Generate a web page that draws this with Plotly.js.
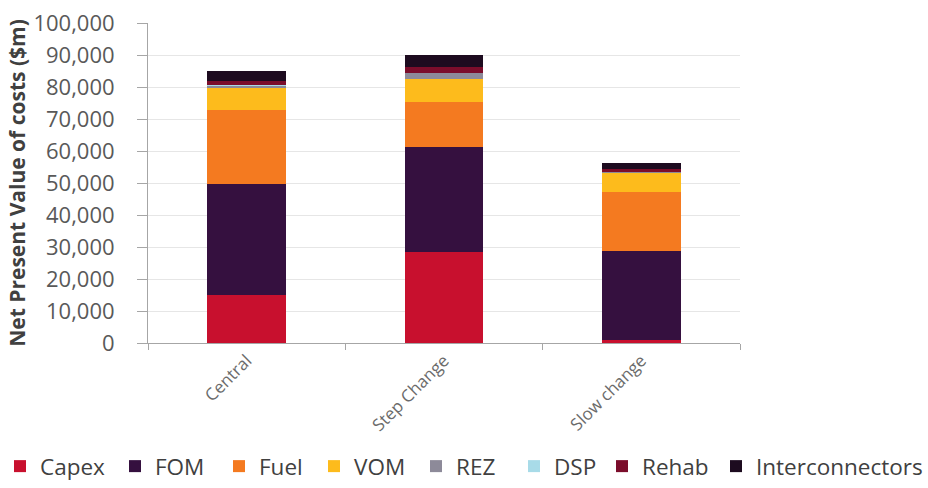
<!DOCTYPE html>
<html>
<head>
<meta charset="utf-8">
<script src="https://cdn.plot.ly/plotly-3.0.1.min.js"></script>
<style>html,body{margin:0;padding:0;background:#fff;}#chart{width:928px;height:488px;}</style>
</head>
<body>
<div id="chart"></div>
<script>
const categories = ["Central", "Step Change", "Slow change"];
const capex = [15000, 28400, 1000];
const fom = [34700, 32800, 27700];
const fuel = [23100, 14100, 18500];
const vom = [6900, 7200, 6000];
const rez = [700, 1900, 300];
const dsp = [100, 100, 50];
const rehab = [1250, 1900, 700];
const interconnectors = [3400, 3500, 2000];

const seriesNames = ["Capex", "FOM", "Fuel", "VOM", "REZ", "DSP", "Rehab", "Interconnectors"];
const seriesValues = [capex, fom, fuel, vom, rez, dsp, rehab, interconnectors];
const colors = ["#c8102e", "#35103f", "#f47a20", "#fdbb1c", "#8d8a99", "#a8dbe8", "#7b0d2b", "#1d0b1f"];
// left edge (px) of each legend entry, as laid out in the reference
const legendLeft = [0, 115, 219, 314, 416, 514, 602, 716];

const W = 928, H = 488;
const legendIds = seriesNames.map((n, i) => i === 0 ? "legend" : "legend" + (i + 1));

const traces = seriesNames.map((n, i) => ({
  type: "bar",
  name: n,
  x: categories,
  y: seriesValues[i],
  legend: legendIds[i],
  marker: {color: colors[i], line: {width: 0}},
  hoverinfo: "x+y+name"
}));

const layout = {
  width: W, height: H,
  margin: {l: 148, r: 188, t: 23, b: 145, autoexpand: false},
  barmode: "stack",
  bargap: 0.6,
  paper_bgcolor: "#fff",
  plot_bgcolor: "#fff",
  font: {family: "Open Sans, sans-serif", color: "#595959"},
  xaxis: {
    type: "category",
    tickson: "boundaries",
    ticks: "outside",
    ticklen: 6,
    tickcolor: "#a6a6a6",
    showline: true,
    linecolor: "#a6a6a6",
    linewidth: 1,
    tickangle: -45,
    tickfont: {size: 17, color: "#6b6b6b"},
    showgrid: false
  },
  yaxis: {
    range: [0, 100000],
    dtick: 10000,
    tickformat: ",",
    ticks: "outside",
    ticklen: 10,
    tickcolor: "#a6a6a6",
    showline: true,
    linecolor: "#a6a6a6",
    showgrid: true,
    gridcolor: "#e6e6e6",
    zeroline: false,
    ticklabelstandoff: 18,
    tickfont: {size: 22, color: "#595959"},
    title: {text: "<b>Net Present Value of costs ($m)</b>", font: {size: 21, color: "#404040"}, standoff: 2}
  },
  showlegend: true
};

legendIds.forEach((id, i) => {
  layout[id] = {
    orientation: "h",
    xref: "container", yref: "container",
    x: legendLeft[i] / W, xanchor: "left",
    y: 0, yanchor: "bottom",
    bgcolor: "rgba(0,0,0,0)",
    font: {size: 22.5, color: "#404040"},
    itemwidth: 30
  };
});

Plotly.newPlot("chart", traces, layout, {displayModeBar: false, staticPlot: true});
</script>
</body>
</html>
